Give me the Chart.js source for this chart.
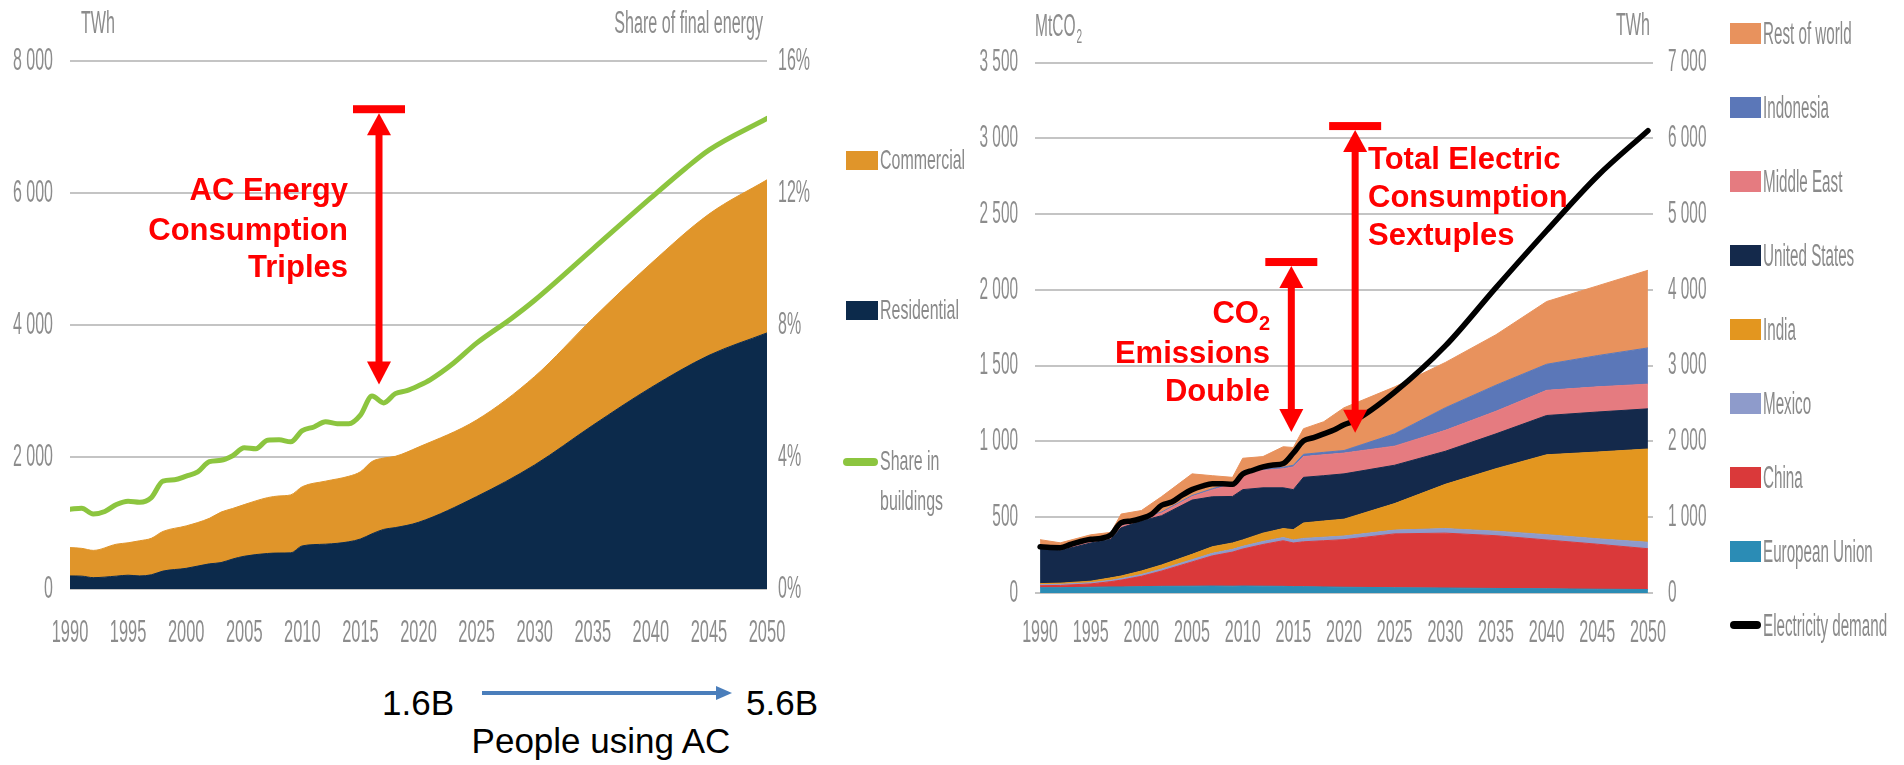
<!DOCTYPE html>
<html>
<head>
<meta charset="utf-8">
<title>Space cooling: energy demand and emissions</title>
<script src="https://cdn.jsdelivr.net/npm/chart.js@4.4.1/dist/chart.umd.min.js"></script>
<style>
  html, body { margin: 0; padding: 0; background: #fff; }
  body { width: 1904px; height: 765px; position: relative; overflow: hidden;
         font-family: "Liberation Sans", Arial, Helvetica, sans-serif; }
  canvas { position: absolute; top: 0; }
  #energy { left: 0; }
  #emissions { left: 960px; }
  .note { position: absolute; color: #ff0000; font-weight: bold; font-size: 31px;
          line-height: 38px; white-space: nowrap; }
  .note sub { font-size: 20px; line-height: 0; vertical-align: -7px; }
  .plain { position: absolute; color: #000; font-size: 35px; line-height: 40px; white-space: nowrap; }
  .leg { position: absolute; white-space: nowrap; color: #8a8a8a; }
  .leg span { display: inline-block; transform-origin: 0 50%; }
  .sw { position: absolute; }
</style>
</head>
<body>
<canvas id="energy" width="830" height="660"></canvas>
<canvas id="emissions" width="770" height="660"></canvas>

<div class="note" style="right:1556px;top:171px;">AC Energy</div>
<div class="note" style="right:1556px;top:211px;">Consumption</div>
<div class="note" style="right:1556px;top:248px;">Triples</div>

<div class="note" style="right:634px;top:294px;">CO<sub>2</sub></div>
<div class="note" style="right:634px;top:334px;">Emissions</div>
<div class="note" style="right:634px;top:372px;">Double</div>

<div class="note" style="left:1368px;top:140px;">Total Electric</div>
<div class="note" style="left:1368px;top:178px;">Consumption</div>
<div class="note" style="left:1368px;top:216px;">Sextuples</div>

<div class="plain" style="right:1450px;top:683px;">1.6B</div>
<div class="plain" style="left:746px;top:683px;">5.6B</div>
<div class="plain" style="left:401px;width:400px;text-align:center;top:721px;">People using AC</div>
<svg style="position:absolute;left:0;top:0;" width="1904" height="765">
  <line x1="482" y1="693" x2="718" y2="693" stroke="#4a7ebb" stroke-width="4"/>
  <polygon points="732,693 716,686 716,700" fill="#4a7ebb"/>
</svg>

<div id="legends"></div>

<script>
// ---------- Air-conditioning electricity use by sector (TWh) ----------
const ENERGY_YEARS = [1990, 1991, 1992, 1994, 1995, 1996, 1997, 1998, 2000, 2002, 2003, 2004, 2005,
                      2007, 2008, 2009, 2010, 2012, 2014, 2015, 2016, 2017, 2018, 2020,
                      2025, 2030, 2035, 2040, 2045, 2050];
const RESIDENTIAL  = [198, 195, 172, 195, 209, 198, 215, 271, 313, 381, 400, 454, 496,
                      538, 545, 548, 653, 679, 715, 757, 836, 903, 930, 1010,
                      1400, 1880, 2480, 3050, 3540, 3880];
const COMMERCIAL   = [429, 421, 413, 484, 491, 533, 553, 601, 643, 690, 765, 766, 783,
                      846, 865, 878, 898, 955, 993, 1019, 1096, 1081, 1080, 1140,
                      1160, 1340, 1620, 1880, 2140, 2320];

// Share of cooling in buildings' final energy use (%)
const SHARE_YEARS = [1990, 1991, 1992, 1993, 1994, 1995, 1996, 1997, 1998, 1999, 2000, 2001, 2002,
                     2003, 2004, 2005, 2006, 2007, 2008, 2009, 2010, 2011, 2012, 2013, 2014, 2015,
                     2016, 2017, 2018, 2019, 2020, 2021, 2023, 2025, 2028, 2030, 2035, 2040, 2043,
                     2045, 2050];
const SHARE       = [2.42, 2.45, 2.27, 2.35, 2.56, 2.66, 2.63, 2.77, 3.27, 3.31, 3.42, 3.55, 3.86,
                     3.90, 4.04, 4.28, 4.25, 4.51, 4.52, 4.46, 4.80, 4.91, 5.07, 5.01, 5.01, 5.27,
                     5.85, 5.64, 5.92, 6.01, 6.16, 6.34, 6.84, 7.45, 8.20, 8.75, 10.30, 11.85, 12.75,
                     13.30, 14.26];

// ---------- CO2 emissions from space cooling by region (MtCO2) ----------
const CO2_YEARS     = [1990, 1992, 1995, 1997, 1998, 2000, 2002, 2005, 2007, 2009, 2010, 2012,
                       2014, 2015, 2016, 2018, 2020, 2025, 2030, 2035, 2040, 2045, 2050];
const EUROPEAN_UNION = [35, 35, 38, 40, 40, 42, 44, 45, 46, 45, 46, 45, 44, 42, 42, 40, 38, 35, 33, 30, 28, 25, 23];
const CHINA          = [13, 15, 22, 35, 45, 68, 101, 160, 199, 225, 244, 275, 301, 288, 296, 305, 314, 355, 362, 348, 322, 297, 269];
const MEXICO         = [7, 7, 8, 9, 10, 12, 13, 15, 17, 18, 18, 20, 21, 20, 22, 23, 24, 25, 30, 30, 35, 36, 43];
const INDIA          = [7, 8, 10, 16, 17, 23, 27, 35, 43, 42, 42, 55, 59, 68, 102, 107, 111, 175, 292, 412, 527, 572, 615];
const UNITED_STATES  = [241, 215, 252, 255, 318, 330, 325, 358, 330, 307, 332, 299, 269, 264, 301, 299, 299, 253, 218, 230, 259, 264, 265];
const MIDDLE_EAST    = [5, 5, 8, 10, 10, 15, 18, 23, 45, 80, 115, 115, 126, 150, 137, 138, 137, 126, 138, 149, 166, 166, 163];
const INDONESIA      = [2, 2, 3, 3, 4, 5, 6, 7, 8, 8, 8, 9, 10, 11, 15, 16, 17, 81, 149, 172, 172, 206, 239];
const REST_OF_WORLD  = [42, 44, 43, 32, 77, 49, 102, 143, 86, 38, 84, 82, 135, 117, 169, 202, 282, 310, 299, 333, 414, 460, 512];

// Electricity demand for space cooling (TWh, right axis)
const ELEC_YEARS = [1990, 1991, 1992, 1993, 1994, 1995, 1996, 1997, 1998, 1999, 2000, 2001, 2002, 2003,
                    2004, 2005, 2006, 2007, 2008, 2009, 2010, 2011, 2012, 2013, 2014, 2015, 2016, 2017,
                    2018, 2019, 2020, 2021, 2025, 2030, 2035, 2040, 2045, 2050];
const ELECTRICITY = [610, 600, 598, 640, 680, 708, 720, 768, 928, 950, 984, 1040, 1158, 1200,
                     1290, 1364, 1410, 1442, 1440, 1434, 1571, 1620, 1664, 1690, 1708, 1847, 2008, 2050,
                     2100, 2150, 2220, 2270, 2650, 3260, 4030, 4780, 5500, 6100];

// ---------- Axis ticks ----------
const YEAR_TICKS     = [1990, 1995, 2000, 2005, 2010, 2015, 2020, 2025, 2030, 2035, 2040, 2045, 2050];
const ENERGY_TICKS   = [0, 2000, 4000, 6000, 8000];
const SHARE_TICKS    = [0, 4, 8, 12, 16];
const CO2_TICKS      = [0, 500, 1000, 1500, 2000, 2500, 3000, 3500];
const ELEC_TICKS     = [0, 1000, 2000, 3000, 4000, 5000, 6000, 7000];

// Annotation arrows, in data units: year, bar level, arrow tip
const ENERGY_ARROWS = [{ year: 2016.6, from: 7330, to: 3100 }];
const CO2_ARROWS    = [{ year: 2014.8, from: 2210, to: 1062 },
                       { year: 2021.1, from: 3107, to: 1058 }];

const COLORS = {
  residential: '#0c2a4b', commercial: '#e0952a', share: '#8cc53f',
  eu: '#2b8cb5', china: '#da393a', mexico: '#8e9bcb', india: '#e3961f',
  us: '#14294b', middleEast: '#e57b80', indonesia: '#5b77b8', rest: '#e8925d',
  electricity: '#000000'
};

const GREY = '#8c8c8c';
const FONT = '"Liberation Sans", Arial, Helvetica, sans-serif';
Chart.defaults.font.family = FONT;

function pts(xs, ys) { return xs.map((x, i) => ({ x: x, y: ys[i] })); }
function thousands(v) { return String(v).replace(/\B(?=(\d{3})+(?!\d))/g, ' '); }
function ticksFrom(list) { return s => { s.ticks = list.map(v => ({ value: v })); }; }

// condensed grey text, as used on the axes
function drawNarrow(ctx, text, x, y, size, sx, align) {
  ctx.save();
  ctx.font = size + 'px ' + FONT;
  ctx.fillStyle = GREY;
  ctx.textBaseline = 'middle';
  ctx.textAlign = align;
  ctx.translate(x, y);
  ctx.scale(sx, 1);
  ctx.fillText(text, 0, 0);
  ctx.restore();
}

function axisLabels(axes, titles) {
  return {
    id: 'axisLabels',
    afterDraw(chart) {
      const ctx = chart.ctx;
      axes.forEach(a => {
        const sc = chart.scales[a.id];
        sc.ticks.forEach(t => {
          const p = sc.getPixelForValue(t.value);
          const txt = a.fmt(t.value);
          if (sc.isHorizontal()) drawNarrow(ctx, txt, p, a.at, a.size, a.sx, 'center');
          else drawNarrow(ctx, txt, a.at, p, a.size, a.sx, a.align);
        });
      });
      titles.forEach(t => {
        drawNarrow(ctx, t.text, t.x, t.y, t.size, t.sx, t.align);
        if (t.sub) {
          ctx.save();
          ctx.font = t.size + 'px ' + FONT;
          const w = ctx.measureText(t.text).width * t.sx;
          ctx.restore();
          drawNarrow(ctx, t.sub, t.x + w + 1, t.y + 10, t.size * 0.65, t.sx, 'left');
        }
      });
    }
  };
}

function redArrows(arrows) {
  return {
    id: 'redArrows',
    afterDatasetsDraw(chart) {
      const ctx = chart.ctx, xs = chart.scales.x, ys = chart.scales.y;
      ctx.save();
      ctx.fillStyle = '#ff0000';
      arrows.forEach(a => {
        const x = xs.getPixelForValue(a.year);
        const top = ys.getPixelForValue(a.from);
        const tip = ys.getPixelForValue(a.to);
        ctx.fillRect(x - 26, top, 52, 8);
        const h = top + 8;
        ctx.beginPath();
        ctx.moveTo(x, h); ctx.lineTo(x - 12, h + 22); ctx.lineTo(x + 12, h + 22);
        ctx.closePath(); ctx.fill();
        ctx.fillRect(x - 3.5, h + 20, 7, (tip - 21) - (h + 20));
        ctx.beginPath();
        ctx.moveTo(x, tip); ctx.lineTo(x - 12, tip - 23); ctx.lineTo(x + 12, tip - 23);
        ctx.closePath(); ctx.fill();
      });
      ctx.restore();
    }
  };
}

function area(label, xs, ys, color, first, smooth) {
  return {
    label: label, data: pts(xs, ys), backgroundColor: color, borderColor: color, borderWidth: 1,
    fill: first ? 'origin' : '-1', pointRadius: 0, yAxisID: 'y', order: 1,
    cubicInterpolationMode: smooth ? 'monotone' : 'default', tension: 0
  };
}

const gridStyle = { color: '#c4c4c4', lineWidth: 2, drawTicks: false };

// ---------- Left: electricity for cooling by sector ----------
new Chart(document.getElementById('energy'), {
  type: 'line',
  data: {
    datasets: [
      area('Residential', ENERGY_YEARS, RESIDENTIAL, COLORS.residential, true, true),
      area('Commercial', ENERGY_YEARS, COMMERCIAL, COLORS.commercial, false, true),
      { label: 'Share in buildings', data: pts(SHARE_YEARS, SHARE), borderColor: COLORS.share,
        borderWidth: 5, fill: false, pointRadius: 0, yAxisID: 'y2', order: 0,
        cubicInterpolationMode: 'monotone', borderCapStyle: 'round', borderJoinStyle: 'round' }
    ]
  },
  options: {
    responsive: false, animation: false, devicePixelRatio: 1,
    layout: { padding: { top: 61, left: 0, right: 0, bottom: 0 } },
    plugins: { legend: { display: false }, tooltip: { enabled: false } },
    scales: {
      x: { type: 'linear', min: 1990, max: 2050, afterBuildTicks: ticksFrom(YEAR_TICKS),
           ticks: { display: false }, grid: { display: false }, border: { display: false },
           afterFit: s => { s.height = 71; } },
      y: { stacked: true, position: 'left', min: 0, max: 8000, afterBuildTicks: ticksFrom(ENERGY_TICKS),
           ticks: { display: false }, grid: gridStyle, border: { display: false },
           afterFit: s => { s.width = 70; } },
      y2: { position: 'right', min: 0, max: 16, afterBuildTicks: ticksFrom(SHARE_TICKS),
            ticks: { display: false }, grid: { display: false }, border: { display: false },
            afterFit: s => { s.width = 63; } }
    }
  },
  plugins: [
    axisLabels(
      [ { id: 'x', at: 633, size: 31, sx: 0.53, fmt: v => String(v) },
        { id: 'y', at: 53, size: 32, sx: 0.5, align: 'right', fmt: thousands },
        { id: 'y2', at: 778, size: 32, sx: 0.5, align: 'left', fmt: v => v + '%' } ],
      [ { text: 'TWh', x: 81, y: 24, size: 31, sx: 0.52, align: 'left' },
        { text: 'Share of final energy', x: 763, y: 24, size: 31, sx: 0.52, align: 'right' } ]
    ),
    redArrows(ENERGY_ARROWS)
  ]
});

// ---------- Right: CO2 from cooling by region, with electricity demand ----------
const regionSeries = [
  ['European Union', EUROPEAN_UNION, COLORS.eu],
  ['China', CHINA, COLORS.china],
  ['Mexico', MEXICO, COLORS.mexico],
  ['India', INDIA, COLORS.india],
  ['United States', UNITED_STATES, COLORS.us],
  ['Middle East', MIDDLE_EAST, COLORS.middleEast],
  ['Indonesia', INDONESIA, COLORS.indonesia],
  ['Rest of world', REST_OF_WORLD, COLORS.rest]
];

new Chart(document.getElementById('emissions'), {
  type: 'line',
  data: {
    datasets: regionSeries.map((r, i) => area(r[0], CO2_YEARS, r[1], r[2], i === 0, false)).concat([
      { label: 'Electricity demand', data: pts(ELEC_YEARS, ELECTRICITY), borderColor: COLORS.electricity,
        borderWidth: 5.5, fill: false, pointRadius: 0, yAxisID: 'y2', order: 0,
        cubicInterpolationMode: 'monotone', borderCapStyle: 'round', borderJoinStyle: 'round' }
    ])
  },
  options: {
    responsive: false, animation: false, devicePixelRatio: 1,
    layout: { padding: { top: 62.5, left: 0, right: 0, bottom: 0 } },
    plugins: { legend: { display: false }, tooltip: { enabled: false } },
    scales: {
      x: { type: 'linear', min: 1989.5, max: 2050.5, afterBuildTicks: ticksFrom(YEAR_TICKS),
           ticks: { display: false }, grid: { display: false }, border: { display: false },
           afterFit: s => { s.height = 67; } },
      y: { stacked: true, position: 'left', min: 0, max: 3500, afterBuildTicks: ticksFrom(CO2_TICKS),
           ticks: { display: false }, grid: gridStyle, border: { display: false },
           afterFit: s => { s.width = 75; } },
      y2: { position: 'right', min: 0, max: 7000, afterBuildTicks: ticksFrom(ELEC_TICKS),
            ticks: { display: false }, grid: { display: false }, border: { display: false },
            afterFit: s => { s.width = 77; } }
    }
  },
  plugins: [
    axisLabels(
      [ { id: 'x', at: 633, size: 31, sx: 0.52, fmt: v => String(v) },
        { id: 'y', at: 58, size: 32, sx: 0.48, align: 'right', fmt: thousands },
        { id: 'y2', at: 708, size: 32, sx: 0.48, align: 'left', fmt: thousands } ],
      [ { text: 'MtCO', sub: '2', x: 75, y: 27, size: 31, sx: 0.5, align: 'left' },
        { text: 'TWh', x: 690, y: 26, size: 31, sx: 0.52, align: 'right' } ]
    ),
    redArrows(CO2_ARROWS)
  ]
});

// ---------- Legends ----------
const host = document.getElementById('legends');
function legendItem(o) {
  const sw = document.createElement('div');
  sw.className = 'sw';
  if (o.line) {
    Object.assign(sw.style, { left: o.x + 'px', top: (o.cy - 4) + 'px', width: o.w + 'px', height: '8px',
                              background: o.color, borderRadius: '4px' });
  } else {
    Object.assign(sw.style, { left: o.x + 'px', top: (o.cy - o.h / 2) + 'px', width: o.w + 'px',
                              height: o.h + 'px', background: o.color });
  }
  host.appendChild(sw);
  o.lines.forEach(l => {
    const d = document.createElement('div');
    d.className = 'leg';
    Object.assign(d.style, { left: o.tx + 'px', top: (l.cy - 0.4885 * o.size) + 'px',
                             fontSize: o.size + 'px', lineHeight: o.size + 'px' });
    const s = document.createElement('span');
    s.style.transform = 'scaleX(' + o.sx + ')';
    s.textContent = l.text;
    d.appendChild(s);
    host.appendChild(d);
  });
}

[
  { label: 'Commercial', color: COLORS.commercial, cy: 160 },
  { label: 'Residential', color: COLORS.residential, cy: 310 }
].forEach(e => legendItem({ x: 846, w: 32, h: 19, cy: e.cy, color: e.color, tx: 880, size: 28, sx: 0.57,
                            lines: [{ text: e.label, cy: e.cy }] }));
legendItem({ x: 843, w: 35, cy: 462, color: COLORS.share, line: true, tx: 880, size: 28, sx: 0.57,
             lines: [{ text: 'Share in', cy: 461 }, { text: 'buildings', cy: 501 }] });

const rightLegend = regionSeries.slice().reverse().map(r => ({ label: r[0], color: r[2] }));
rightLegend.push({ label: 'Electricity demand', color: COLORS.electricity, line: true });
rightLegend.forEach((e, i) => {
  const cy = 33 + i * 74;
  legendItem({ x: 1730, w: 31, h: 21, cy: cy, color: e.color, line: !!e.line, tx: 1763, size: 31, sx: 0.49,
               lines: [{ text: e.label, cy: cy }] });
});
</script>
</body>
</html>
